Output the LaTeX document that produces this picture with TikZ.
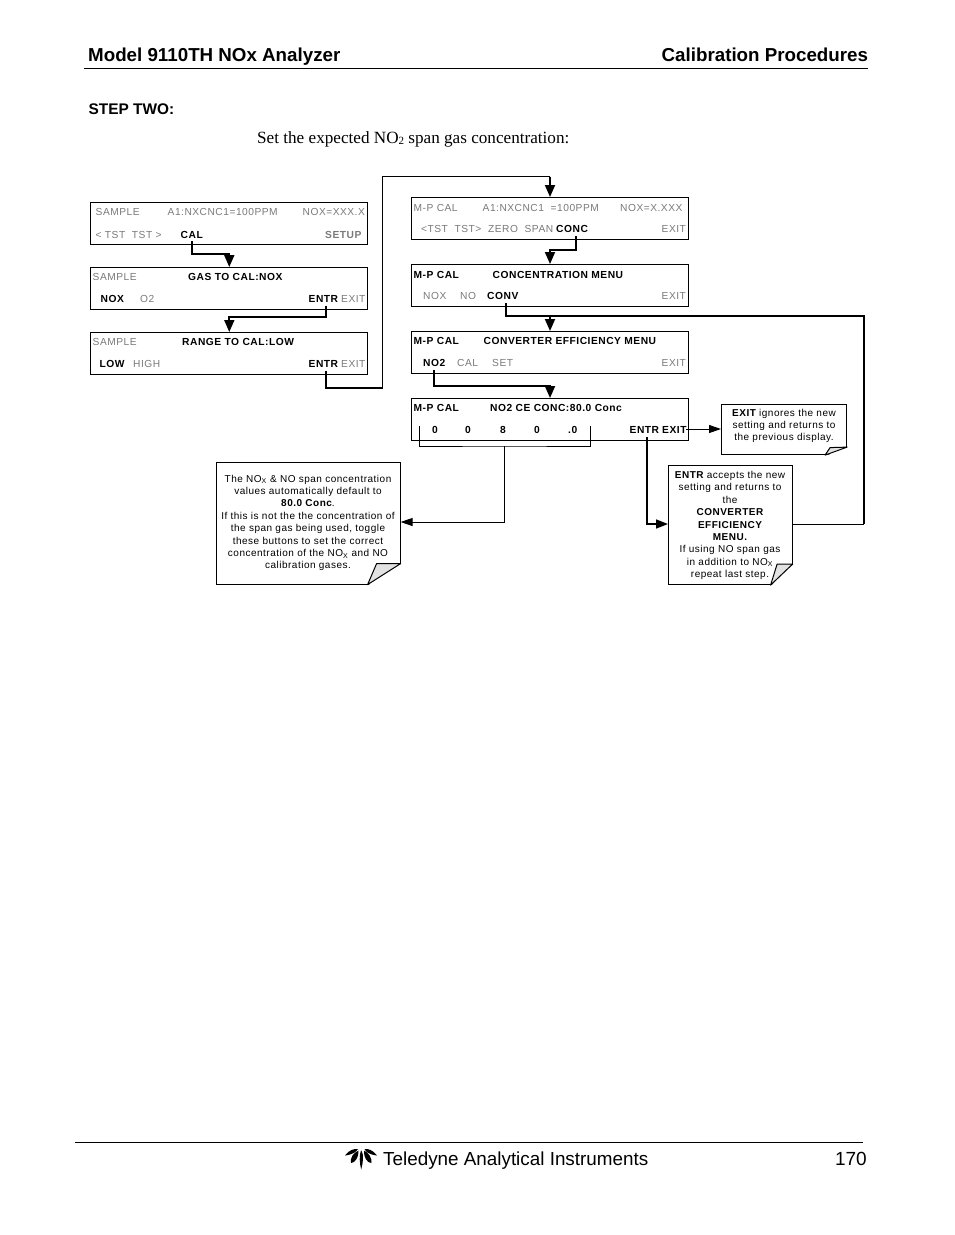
\documentclass[tikz,border=0pt]{standalone}
\usepackage{fontspec}
\setmainfont{Liberation Sans}
\newfontfamily\serifr{Liberation Serif}
\newfontfamily\disp[LetterSpace=5]{Liberation Sans}
\usetikzlibrary{arrows.meta,calc}
\definecolor{lcdgray}{HTML}{7A7A7A}
\definecolor{foldgray}{HTML}{E2E2E2}
\tikzset{
  x=1pt,y=-1pt,
  dispbox/.style={draw=black,line width=0.9pt,minimum width=277pt,minimum height=42pt,inner sep=0,anchor=north west},
  dispboxr/.style={dispbox,minimum width=277pt},
  gt/.style={anchor=base west,inner sep=0,text=lcdgray,font=\disp\fontsize{10.2}{12}\selectfont},
  bt/.style={anchor=base west,inner sep=0,text=black,font=\disp\bfseries\fontsize{10.25}{12}\selectfont},
  thickarrow/.style={line width=1.8pt,-{Triangle[length=12pt,width=10pt]}},
  thinarrow/.style={line width=1pt,-{Triangle[length=12pt,width=8pt]}},
  thickline/.style={line width=1.8pt},
  notebox/.style={draw=black,line width=1.1pt,inner sep=0,fill=white,anchor=north west},
  notetext/.style={inner sep=0,align=center,font=\disp\fontsize{10}{12.4}\selectfont},
  headb/.style={anchor=base west,inner sep=0,font=\bfseries\fontsize{18.75}{22}\selectfont},
}
\newcommand{\foldnote}[5]{% node, dx bottom, dy right, dx inner, dy inner
  \fill[white] ($(#1.south east)+(-#2,1)$) -- ($(#1.south east)+(1,-#3)$) -- ($(#1.south east)+(1,1)$) -- cycle;
  \draw[line width=1pt,fill=foldgray,line join=round] ($(#1.south east)+(-#2,0)$) -- ($(#1.south east)+(0,-#3)$) -- ($(#1.south east)+(-#4,-#5)$) -- cycle;
}
\begin{document}
\begin{tikzpicture}
\useasboundingbox (0,0) rectangle (954,1235);
\fill[white] (0,0) rectangle (954,1235);
% header
\node[headb] (h1) at (88,61) {Model 9110TH NOx Analyzer};
\node[headb] (h2) at (661.5,61) {Calibration Procedures};
\coordinate (hl) at (84,68.5); \coordinate (hr) at (868,68.5);
\draw[line width=1pt] (hl) -- (hr);
\node[anchor=base west,inner sep=0,font=\bfseries\fontsize{15.4}{16}\selectfont] (st) at (88.5,114) {STEP TWO:};
\node[anchor=base west,inner sep=0,font=\serifr\fontsize{17.15}{18}\selectfont] (sub) at (257,143) {Set the expected NO\raisebox{-0.2ex}{\fontsize{11}{12}\selectfont 2} span gas concentration:};

% left boxes
\node[dispbox] (b1) at (90,202) {};
\node[dispbox] (b2) at (90,267) {};
\node[dispbox] (b3) at (90,332) {};
\node[gt] (b1a) at (95.5,215) {SAMPLE};
\node[gt] (b1b) at (167.5,215) {A1:NXCNC1=100PPM};
\node[gt] (b1c) at (302.5,215) {NOX=XXX.X};
\node[gt] (b1d) at (95.5,238) {< TST\ \ TST >};
\node[bt] (cal) at (180.5,238) {CAL};
\node[gt,font=\disp\bfseries\fontsize{10.25}{12}\selectfont] (b1f) at (325,238) {SETUP};
\node[gt] (b2a) at (92.5,280) {SAMPLE};
\node[bt] (b2b) at (188,280) {GAS TO CAL:NOX};
\node[bt] (b2c) at (100.5,302) {NOX};
\node[gt] (b2d) at (140,302) {O2};
\node[bt] (e2) at (308.5,302) {ENTR};
\node[gt] (b2f) at (341,302) {EXIT};
\node[gt] (b3a) at (92.5,345) {SAMPLE};
\node[bt] (b3b) at (182,345) {RANGE TO CAL:LOW};
\node[bt] (b3c) at (99.5,367) {LOW};
\node[gt] (b3d) at (133,367) {HIGH};
\node[bt] (e3) at (308.5,367) {ENTR};
\node[gt] (b3f) at (341,367) {EXIT};

% right boxes
\node[dispboxr] (r1) at (411,197) {};
\node[dispboxr] (r2) at (411,264) {};
\node[dispboxr] (r3) at (411,331) {};
\node[dispboxr] (r4) at (411,398) {};
\node[gt] (r1a) at (413.5,211) {M-P CAL};
\node[gt] (r1b) at (482.5,211) {A1:NXCNC1\ \ =100PPM};
\node[gt] (r1c) at (620,211) {NOX=X.XXX};
\node[gt] (r1d) at (421,232) {<TST\ \ TST>\ \ ZERO\ \ SPAN};
\node[bt] (conc) at (556,232) {CONC};
\node[gt] (r1f) at (661.5,232) {EXIT};
\node[bt] (r2a) at (413.5,278) {M-P CAL};
\node[bt] (r2b) at (492.5,278) {CONCENTRATION MENU};
\node[gt] (r2c) at (423,299) {NOX};
\node[gt] (r2d) at (460,299) {NO};
\node[bt] (conv) at (487,299) {CONV};
\node[gt] (r2f) at (661.5,299) {EXIT};
\node[bt] (r3a) at (413.5,344) {M-P CAL};
\node[bt] (r3b) at (483.5,344) {CONVERTER EFFICIENCY MENU};
\node[bt] (no2) at (423,366) {NO2};
\node[gt] (r3d) at (457,366) {CAL};
\node[gt] (r3e) at (492,366) {SET};
\node[gt] (r3f) at (661.5,366) {EXIT};
\node[bt] (r4a) at (413.5,411) {M-P CAL};
\node[bt] (r4b) at (490,411) {NO2 CE CONC:80.0 Conc};
\node[bt] (d1) at (432,433) {0};
\node[bt] (d2) at (465,433) {0};
\node[bt] (d3) at (500,433) {8};
\node[bt] (d4) at (534,433) {0};
\node[bt] (d5) at (568,433) {.0};
\node[bt] (e4) at (629.5,433) {ENTR};
\node[bt] (x4) at (662,433) {EXIT};

% notes
\node[notebox,minimum width=125pt,minimum height=50pt] (n1) at (721,404) {};
\node[notetext] (n1t) at (784,426) {{\bfseries EXIT} ignores the new\\setting and returns to\\the previous display.};
\foldnote{n1}{22}{8}{17}{7.5}
\node[notebox,minimum width=123.5pt,minimum height=119pt] (n2) at (668,465) {};
\node[notetext] (n2t) at (730,525.5) {{\bfseries ENTR} accepts the new\\setting and returns to\\the\\{\bfseries CONVERTER}\\{\bfseries EFFICIENCY}\\{\bfseries MENU.}\\If using NO span gas\\in addition to NO\textsubscript{X}\\repeat last step.};
\foldnote{n2}{22}{21}{15.5}{21}
\node[notebox,minimum width=183.5pt,minimum height=122pt] (n3) at (216,461.5) {};
\node[notetext] (n3t) at (308,523) {The NO\textsubscript{X} \& NO span concentration\\values automatically default to\\{\bfseries 80.0 Conc}.\\If this is not the the concentration of\\the span gas being used, toggle\\these buttons to set the correct\\concentration of the NO\textsubscript{X} and NO\\calibration gases.};
\foldnote{n3}{33}{21}{24}{21}

% connectors
\coordinate (c1s) at (191.8,241);
\coordinate (c2s) at (326,305.5);
\coordinate (c3s) at (326,371);
\coordinate (rb1s) at (575.7,236);
\coordinate (cvs) at (506,303);
\coordinate (nos) at (434.3,370);
\coordinate (right1) at (864,315.7);
\coordinate (right2) at (864,524);
\coordinate (top1) at (382.7,176.7);
\coordinate (top2) at (550,176.7);
\coordinate (low1) at (382.7,387.7);
\draw[thickarrow] (c1s) |- (229.3,254) -- (229.3,267);
\draw[thickarrow] (c2s) |- (229.3,316.7) -- (229.3,332);
\draw[thickline] (c3s) |- (low1);
\draw[line width=1pt] (low1) -- (top1) -- (top2);
\draw[thickarrow] (top2) -- (550,197);
\draw[thickarrow] (rb1s) |- (550,250) -- (550,264);
\draw[thickline] (cvs) |- (right1) -- (right2);
\draw[line width=1pt] (right2) -- (n2.east |- right2);
\draw[thickarrow] (550,315.7) -- (550,331);
\draw[thickarrow] (nos) |- (550,385.7) -- (550,398);
% bracket
\coordinate (br1) at (419.3,426); \coordinate (br2) at (590,426);
\coordinate (brm) at (504.3,446);
\draw[line width=0.8pt] (br1) |- (brm) -| (br2);
\draw[thinarrow] (brm) |- (n3.east |- 0,522);
\coordinate (exs) at (686,429);
\draw[thinarrow] (exs) -- (n1.west |- exs);
\coordinate (ens) at (646.7,437);
\draw[line width=1.6pt,-{Triangle[length=12pt,width=9pt]}] (ens) |- (n2.west |- 0,524);

% footer
\coordinate (fl) at (75,1142.5); \coordinate (fr) at (863,1142.5);
\draw[line width=1pt] (fl) -- (fr);
\fill[black] (345,1155.5) .. controls (349,1150) and (354,1148.5) .. (358,1149) .. controls (356,1152) and (353,1154.5) .. (345,1155.5) -- cycle;
\fill[black] (358.5,1150.5) .. controls (353,1153) and (350,1158) .. (351,1163) .. controls (355,1163) and (359,1157) .. (358.5,1150.5) -- cycle;
\fill[black] (361,1150.5) -- (361.5,1150.5) .. controls (364,1155) and (363,1163) .. (361.2,1169.5) .. controls (359.5,1163) and (359,1155) .. (361,1150.5) -- cycle;
\fill[black] (364,1150.5) .. controls (369,1153) and (372,1158) .. (371.5,1163) .. controls (367,1163) and (363.5,1157) .. (364,1150.5) -- cycle;
\fill[black] (377,1155.5) .. controls (373,1150) and (368,1148.5) .. (364.5,1149) .. controls (366,1152) and (369,1154.5) .. (377,1155.5) -- cycle;
\node[anchor=base west,inner sep=0,font=\fontsize{18.85}{22}\selectfont] (ft) at (383,1165.5) {Teledyne Analytical Instruments};
\node[anchor=base east,inner sep=0,font=\fontsize{19}{22}\selectfont] (pg) at (867,1165.5) {170};
\end{tikzpicture}
\end{document}
